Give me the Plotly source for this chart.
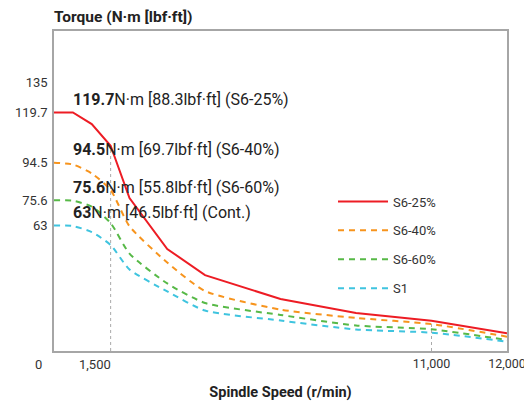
import plotly.graph_objects as go

# ---- data ----
speed = [0, 500, 1000, 1500, 2000, 3000, 4000, 6000, 8000, 10000, 12000]
s6_25 = [119.7, 119.7, 113.9, 103.0, 76.8, 51.2, 38.1, 26.1, 19.1, 15.2, 8.9]
s6_40 = [94.5, 93.6, 89.1, 80.8, 62.6, 44.4, 30.1, 20.8, 16.6, 13.5, 7.2]
s6_60 = [75.6, 75.4, 72.5, 64.2, 48.9, 33.9, 24.1, 18.1, 12.8, 10.9, 5.5]
s1 = [63.0, 62.7, 59.7, 53.2, 40.9, 29.9, 20.3, 15.3, 10.8, 9.2, 4.7]

series_names = ["S6-25%", "S6-40%", "S6-60%", "S1"]
series_colors = ["#ed1c24", "#f7941d", "#57b947", "#3fc4df"]
max_labels = [
    "<b>119.7</b>N·m [88.3lbf·ft] (S6-25%)",
    "<b>94.5</b>N·m [69.7lbf·ft] (S6-40%)",
    "<b>75.6</b>N·m [55.8lbf·ft] (S6-60%)",
    "<b>63</b>N·m [46.5lbf·ft] (Cont.)",
]
y_tick_vals = [63, 75.6, 94.5, 119.7, 135]
y_tick_text = ["63", "75.6", "94.5", "119.7", "135"]
x_tick_vals = [10000, 12000]
x_tick_text = ["11,000", "12,000"]
x_extra_vals = [0, 1500]
x_extra_text = ["0", "1,500"]
drop_idx = [3, 9]  # indices of speed where gray drop lines are drawn

FONT = "Roboto"
TXT = "#333333"
PAGE_PAD = 8  # default body margin of the html page

fig = go.Figure()
all_series = [s6_25, s6_40, s6_60, s1]
for i, (name, vals, col) in enumerate(zip(series_names, all_series, series_colors)):
    fig.add_trace(go.Scatter(
        x=speed, y=vals, mode="lines", name=name,
        legendgroup=name,
        line=dict(color=col, width=2,
                  dash="solid" if i == 0 else "6px,5px",
                  shape="linear" if i == 0 else "spline",
                  smoothing=0.6),
        hoverinfo="skip",
    ))

# gray drop lines
for k in drop_idx:
    fig.add_shape(type="line", xref="x", yref="y",
                  x0=speed[k], x1=speed[k], y0=0, y1=s6_25[k],
                  line=dict(color="#aaaaaa", width=1, dash="3px,3px"), layer="below")

# max-torque labels
for lab, vals in zip(max_labels, all_series):
    fig.add_annotation(x=speed[1], y=vals[0], xref="x", yref="y", text=lab,
                       showarrow=False, xanchor="left", yanchor="middle", yshift=13,
                       xshift=-2, font=dict(family=FONT, size=16, color="#222222"))

# extra x labels
for v, t in zip(x_extra_vals, x_extra_text):
    fig.add_annotation(x=v, y=0, xref="x", yref="y", text=t, showarrow=False,
                       xanchor="center", yanchor="top", xshift=-16, yshift=-4,
                       font=dict(family=FONT, size=13, color=TXT))

# y axis title
fig.add_annotation(x=0, y=1, xref="paper", yref="paper", text="<b>Torque (N·m [lbf·ft])</b>",
                   showarrow=False, xanchor="left", yanchor="bottom", yshift=3, xshift=-2,
                   font=dict(family=FONT, size=15.5, color="#222222"))

fig.update_layout(
    template="none",
    width=532 - PAGE_PAD, height=404 - PAGE_PAD,
    margin=dict(l=54 - PAGE_PAD, r=25, t=31 - PAGE_PAD, b=53, autoexpand=False),
    paper_bgcolor="white", plot_bgcolor="white",
    font=dict(family=FONT, size=13, color=TXT),
    showlegend=True,
    legend=dict(x=(333 - 54) / 453, y=0.514, xanchor="left", yanchor="top",
                bgcolor="rgba(0,0,0,0)", borderwidth=0,
                font=dict(family=FONT, size=13, color=TXT),
                tracegroupgap=9, traceorder="grouped", itemwidth=50),
    xaxis=dict(range=[0, 12000], tickvals=x_tick_vals, ticktext=x_tick_text,
               showgrid=False, zeroline=False, showline=True, linecolor="#a6a6a6",
               linewidth=1.5, mirror=True, ticks="", ticklen=0, ticklabelstandoff=0,
               automargin=False, tickfont=dict(size=12.5),
               title=dict(text="<b>Spindle Speed (r/min)</b>", standoff=17,
                          font=dict(family=FONT, size=14.5, color="#222222"))),
    yaxis=dict(range=[0, 160.6], tickvals=y_tick_vals, ticktext=y_tick_text,
               showgrid=False, zeroline=False, showline=True, linecolor="#a6a6a6",
               linewidth=1.5, mirror=True, ticks="", ticklen=0, ticklabelstandoff=2,
               automargin=False),
)

fig.write_html("out.html")
